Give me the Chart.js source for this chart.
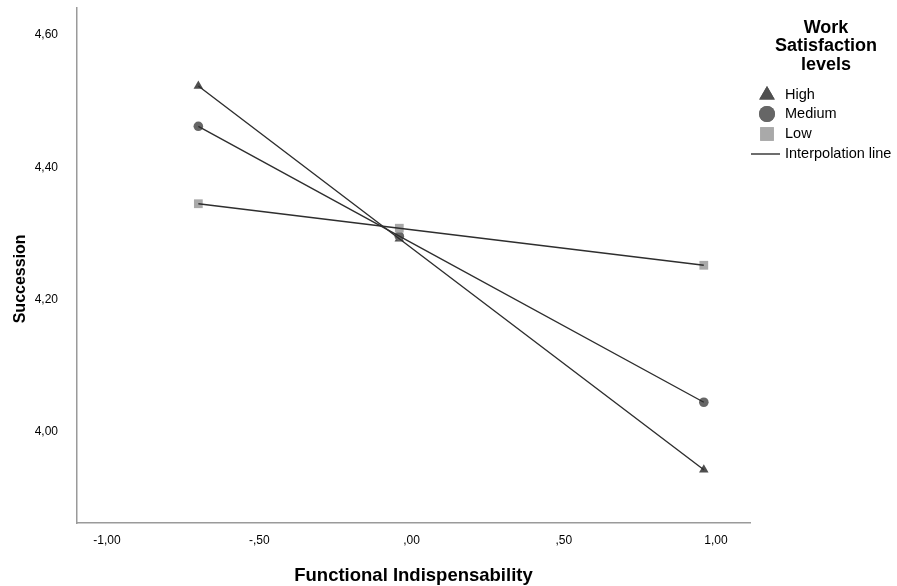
<!DOCTYPE html>
<html>
<head>
<meta charset="utf-8">
<script src="https://cdn.jsdelivr.net/npm/chart.js@4.4.0/dist/chart.umd.min.js"></script>
<style>
	body { margin: 0; background: #fff; font-family: "Liberation Sans", Arial, sans-serif; }
	#wrap { position: relative; width: 897px; height: 586px; }
	#legend { position: absolute; left: 745px; top: 17.5px; width: 152px; color: #000; }
	#legend .title { text-align: center; font-weight: bold; font-size: 18px; line-height: 18.5px; padding-left: 10px; }
	#legend .item { font-size: 14.5px; line-height: 19.7px; height: 19.7px; white-space: nowrap; position: relative; padding-left: 40px; }
	#legend .item canvas { position: absolute; left: 5px; top: 0; }
	#legend .items { margin-top: 11.5px; }
</style>
</head>
<body>
<div id="wrap">
	<canvas id="chart" width="897" height="586"></canvas>
	<div id="legend">
		<div class="title">Work<br>Satisfaction<br>levels</div>
		<div class="items" id="legendItems"></div>
	</div>
</div>
<script>

// Group labels and series values
var groups							 =	["High", "Medium", "Low"];
var xValues							 =	[-0.70, -0.04, 0.96];
var highValues						 =	[4.523, 4.292, 3.943];
var mediumValues					 =	[4.462, 4.296, 4.045];
var lowValues						 =	[4.345, 4.308, 4.252];
var xTicks							 =	[-1, -0.5, 0, 0.5, 1];
var yTicks							 =	[4.0, 4.2, 4.4, 4.6];

var markerStyles					 =	["triangle", "circle", "rect"];
var markerColours					 =	["#4f4f4f", "#666666", "#a9a9a9"];
var markerRadius					 =	[5.5, 4.8, 6.2];
var lineColour						 =	"#2e2e2e";

/**
 * Formats a number the SPSS way: comma decimal, no leading zero
 */
function spssNumber(v) {
	
	var s							 =	Math.abs(v).toFixed(2).replace(".", ",");
	if (s.charAt(0) === "0") s = s.substring(1);
	return (v < 0 ? "-" : "") + s;
	
}

function points(values) {
	
	return values.map(function (v, i) { return { x: xValues[i], y: v }; });
	
}

var seriesValues					 =	[highValues, mediumValues, lowValues];
var datasets						 =	[];

seriesValues.forEach(function (values, i) {
	
	datasets.push({
		label						 :	groups[i] + " line",
		data						 :	points(values),
		showLine					 :	true,
		borderColor					 :	lineColour,
		borderWidth					 :	1.4,
		pointRadius					 :	0,
		order						 :	1,
	});
	
});

seriesValues.forEach(function (values, i) {
	
	datasets.push({
		label						 :	groups[i],
		data						 :	points(values),
		showLine					 :	false,
		pointStyle					 :	markerStyles[i],
		pointRadius					 :	markerRadius[i],
		pointBackgroundColor		 :	markerColours[i],
		pointBorderWidth			 :	0,
		order						 :	10 - i,
	});
	
});

var tickFont						 =	{ family: "Liberation Sans", size: 12 };
var xTitleFont						 =	{ family: "Liberation Sans", size: 18.5, weight: "bold" };
var yTitleFont						 =	{ family: "Liberation Sans", size: 16, weight: "bold" };

new Chart(document.getElementById("chart"), {
	type							 :	"scatter",
	data							 :	{ datasets: datasets },
	options							 :	{
		responsive					 :	false,
		animation					 :	false,
		layout						 :	{ padding: { top: 8, right: 147, left: 0, bottom: 0 } },
		plugins						 :	{ legend: { display: false }, tooltip: { enabled: false } },
		scales						 :	{
			x						 :	{
				type				 :	"linear",
				min					 :	-1.0985,
				max					 :	1.1117,
				afterBuildTicks		 :	function (scale) { scale.ticks = xTicks.map(function (v) { return { value: v }; }); },
				afterFit			 :	function (scale) { scale.height = 63; scale.paddingLeft = 0; scale.paddingRight = 0; },
				grid				 :	{ drawOnChartArea: false, drawTicks: false },
				border				 :	{ color: "#9a9a9a", width: 1.5 },
				ticks				 :	{ font: tickFont, color: "#000", padding: 10, maxRotation: 0, callback: function (v) { return spssNumber(v); } },
				title				 :	{ display: true, text: "Functional Indispensability", font: xTitleFont, color: "#000", padding: { top: 0, bottom: -1 } },
			},
			y						 :	{
				type				 :	"linear",
				min					 :	3.8625,
				max					 :	4.6408,
				afterBuildTicks		 :	function (scale) { scale.ticks = yTicks.map(function (v) { return { value: v }; }); },
				afterFit			 :	function (scale) { scale.width = 77; scale.paddingTop = 0; scale.paddingBottom = 0; },
				grid				 :	{ drawOnChartArea: false, drawTicks: false },
				border				 :	{ color: "#9a9a9a", width: 1.5 },
				ticks				 :	{ font: tickFont, color: "#000", padding: 19, callback: function (v) { return spssNumber(v); } },
				// trailing spaces nudge the centred title down, as in the original
				title				 :	{ display: true, text: "Succession      ", font: yTitleFont, color: "#000", padding: { top: 10.5, bottom: 0 } },
			},
		},
	},
});

/**
 * Builds the legend items with small canvas markers
 */
function buildLegend() {
	
	var holder						 =	document.getElementById("legendItems");
	var names						 =	groups.concat(["Interpolation line"]);
	
	names.forEach(function (name, i) {
		
		var item					 =	document.createElement("div");
		item.className				 =	"item";
		var c						 =	document.createElement("canvas");
		c.width						 =	30;
		c.height					 =	20;
		var ctx						 =	c.getContext("2d");
		
		if (i < 3) {
			
			ctx.fillStyle			 =	markerColours[i];
			Chart.helpers.drawPoint(ctx, { pointStyle: markerStyles[i], radius: [9, 8, 9.6][i], borderWidth: 0 }, 17, 10);
			ctx.fill();
			
		} else {
			
			ctx.strokeStyle		 =	lineColour;
			ctx.lineWidth			 =	1.4;
			ctx.beginPath();
			ctx.moveTo(1, 10);
			ctx.lineTo(30, 10);
			ctx.stroke();
			
		}
		
		item.appendChild(c);
		item.appendChild(document.createTextNode(name));
		holder.appendChild(item);
		
	});
	
}

buildLegend();

</script>
</body>
</html>
